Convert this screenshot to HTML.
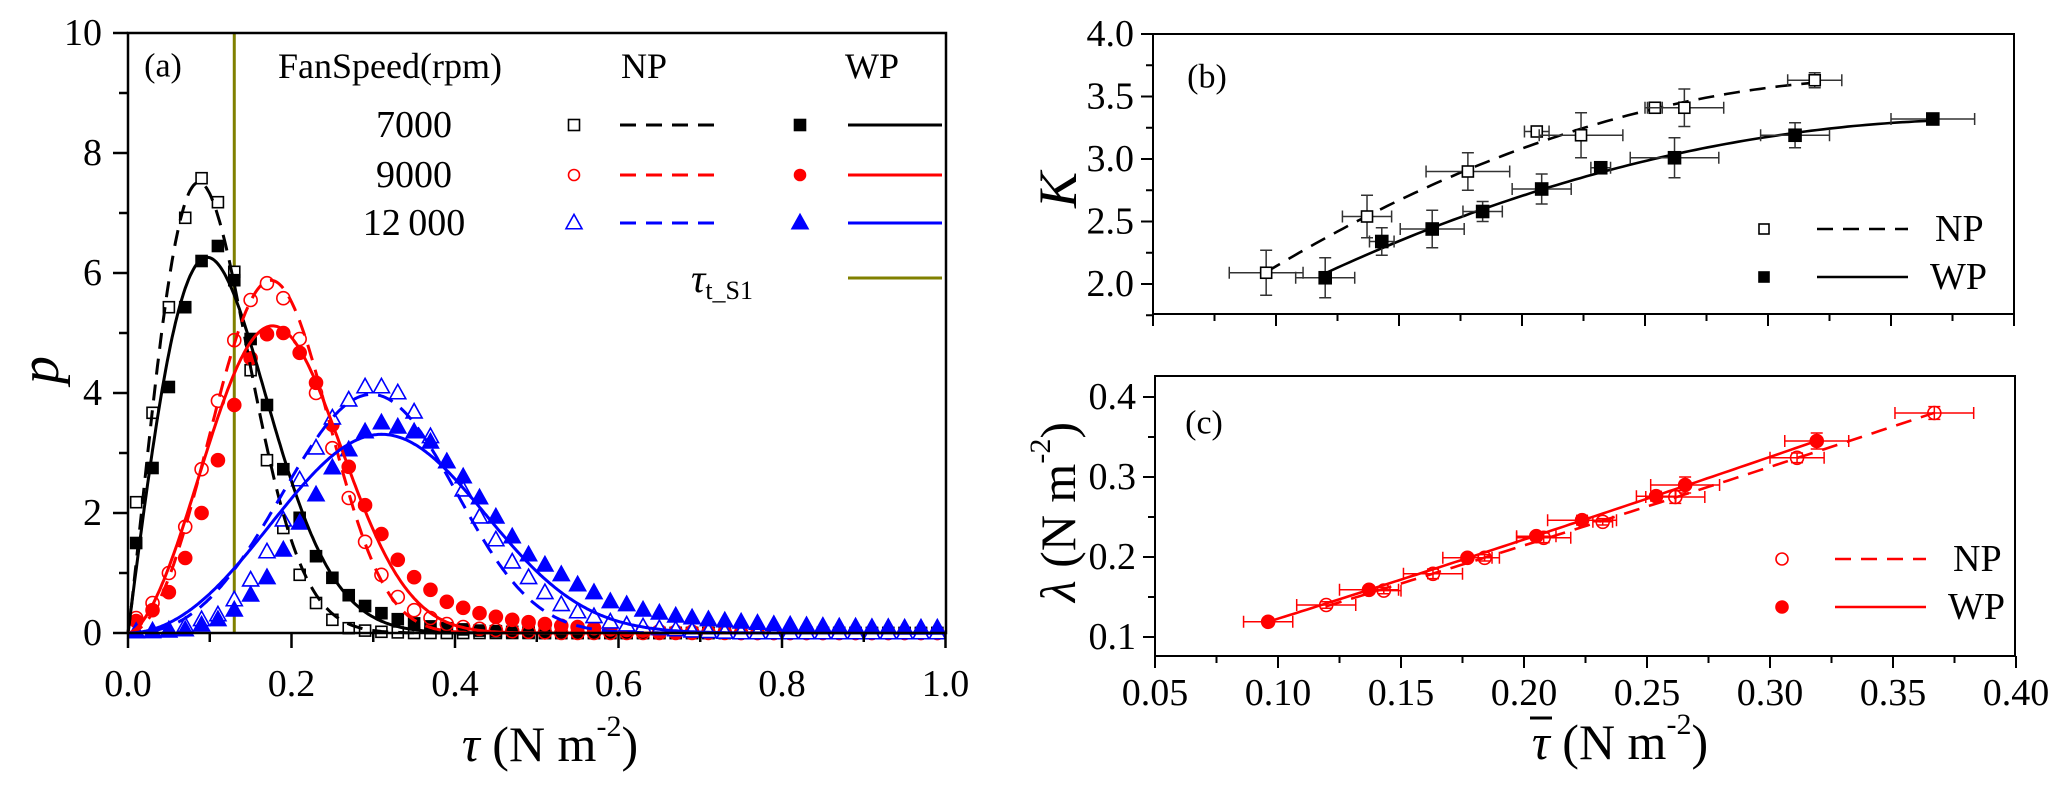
<!DOCTYPE html>
<html><head><meta charset="utf-8">
<style>
html,body{margin:0;padding:0;background:#fff;}
svg{display:block;font-family:"Liberation Serif","DejaVu Serif",serif;}
svg text{font-family:"Liberation Serif","DejaVu Serif",serif;}
</style></head>
<body>
<svg id="fig" width="2067" height="786" viewBox="0 0 2067 786" xmlns="http://www.w3.org/2000/svg" font-family="Liberation Serif, DejaVu Serif, serif"></svg>
<script>
// ---------- Panel (a) data ----------
const aX0 = 0.01, aDX = 0.02; // bin centres
const np7000 = [2.18,3.67,5.43,6.92,7.58,7.18,6.02,4.38,2.88,1.75,0.97,0.5,0.22,0.08,0.04,0.02,0.01,0,0,0,0,0,0,0,0,0,0,0,0,0,0,0,0,0,0,0,0,0,0,0,0,0,0,0,0,0,0,0,0,0];
const wp7000 = [1.5,2.75,4.1,5.43,6.2,6.45,5.88,4.9,3.8,2.73,1.92,1.28,0.92,0.63,0.45,0.33,0.23,0.16,0.11,0.08,0.06,0.04,0.03,0.02,0.01,0,0,0,0,0,0,0,0,0,0,0,0,0,0,0,0,0,0,0,0,0,0,0,0,0];
const np9000 = [0.25,0.5,1.0,1.77,2.73,3.87,4.88,5.55,5.83,5.58,4.9,4.0,3.08,2.25,1.52,0.97,0.6,0.38,0.25,0.15,0.1,0.07,0.05,0.03,0.02,0.01,0,0,0,0,0,0,0,0,0,0,0,0,0,0,0,0,0,0,0,0,0,0,0,0];
const wp9000 = [0.2,0.38,0.68,1.25,2.0,2.88,3.8,4.58,4.98,5.0,4.67,4.17,3.47,2.77,2.13,1.65,1.22,0.93,0.72,0.52,0.42,0.33,0.27,0.22,0.18,0.15,0.12,0.1,0.08,0.06,0.05,0.04,0.03,0.02,0.02,0.01,0.01,0,0,0,0,0,0,0,0,0,0,0,0,0];
const np12000 = [0.02,0.02,0.05,0.12,0.22,0.3,0.55,0.88,1.35,1.88,2.55,3.08,3.58,3.88,4.1,4.1,4.0,3.68,3.27,2.85,2.38,1.93,1.55,1.18,0.92,0.67,0.47,0.35,0.27,0.18,0.13,0.1,0.07,0.05,0.03,0.02,0.01,0,0,0,0,0,0,0,0,0,0,0,0,0];
const wp12000 = [0.02,0.03,0.03,0.05,0.13,0.22,0.38,0.63,0.92,1.38,1.83,2.3,2.75,3.05,3.35,3.5,3.43,3.35,3.18,2.85,2.6,2.25,1.93,1.6,1.3,1.13,0.97,0.8,0.67,0.52,0.47,0.38,0.33,0.28,0.25,0.22,0.2,0.18,0.16,0.14,0.13,0.12,0.11,0.1,0.1,0.09,0.09,0.08,0.08,0.08];
// Weibull fit parameters [shape k, scale lambda]
const fitNP7000 = [2.1, 0.118];
const fitWP7000 = [2.0, 0.137];
const fitNP9000 = [3.0, 0.2];
const fitWP9000 = [2.7, 0.21];
const fitNP12000 = [3.4, 0.33];
const fitWP12000 = [3.0, 0.355];
const tauThreshold = 0.13;
const aXTicks = [0.0,0.2,0.4,0.6,0.8,1.0];
const aXTickLabels = ["0.0","0.2","0.4","0.6","0.8","1.0"];
const aYTicks = [0,2,4,6,8,10];

// ---------- Panel (b) data ----------
const bNPx = [0.096,0.137,0.178,0.206,0.224,0.254,0.266,0.319];
const bNPk = [2.09,2.54,2.90,3.22,3.19,3.41,3.41,3.63];
const bNPex = [0.015,0.01,0.017,0.005,0.017,0.003,0.016,0.011];
const bNPey = [0.18,0.17,0.15,0.03,0.18,0.03,0.15,0.06];
const bWPx = [0.120,0.143,0.1635,0.184,0.208,0.232,0.262,0.311,0.367];
const bWPk = [2.05,2.34,2.44,2.58,2.76,2.93,3.01,3.19,3.32];
const bWPex = [0.012,0.005,0.013,0.008,0.012,0.004,0.018,0.014,0.017];
const bWPey = [0.16,0.11,0.15,0.08,0.12,0.02,0.16,0.1,0.03];
const bYTicks = [2.0,2.5,3.0,3.5,4.0];
const bYTickLabels = ["2.0","2.5","3.0","3.5","4.0"];

// ---------- Panel (c) data ----------
const cWPx = [0.096,0.137,0.177,0.205,0.2236,0.2537,0.2655,0.319];
const cWPl = [0.119,0.159,0.199,0.226,0.246,0.276,0.29,0.345];
const cWPex = [0.01,0.012,0.01,0.008,0.014,0.008,0.014,0.013];
const cWPey = [0.004,0.004,0.004,0.004,0.006,0.006,0.01,0.01];
const cNPx = [0.1196,0.143,0.163,0.184,0.208,0.232,0.2615,0.311,0.3668];
const cNPl = [0.14,0.158,0.179,0.199,0.224,0.244,0.275,0.324,0.38];
const cNPex = [0.012,0.007,0.012,0.006,0.011,0.004,0.012,0.011,0.016];
const cNPey = [0.004,0.004,0.006,0.004,0.006,0.004,0.008,0.006,0.008];
const cXTicks = [0.05,0.10,0.15,0.20,0.25,0.30,0.35,0.40];
const cXTickLabels = ["0.05","0.10","0.15","0.20","0.25","0.30","0.35","0.40"];
const cYTicks = [0.1,0.2,0.3,0.4];
const cYTickLabels = ["0.1","0.2","0.3","0.4"];

const NS = "http://www.w3.org/2000/svg";
const FONT = '"Liberation Serif", "DejaVu Serif", serif';
const svg = document.getElementById('fig');
function el(tag, attrs, parent) {
  const e = document.createElementNS(NS, tag);
  for (const k in attrs) e.setAttribute(k, attrs[k]);
  (parent || svg).appendChild(e);
  return e;
}
function txt(s, x, y, size, opts, parent) {
  const t = el('text', Object.assign({x:x, y:y, 'font-size':size, fill:'#000', 'dominant-baseline':'central', 'font-family':FONT}, opts||{}), parent);
  t.textContent = s;
  return t;
}

// axis functions
const ax = v => 128 + v * 817.5;
const ay = v => 633 - v * 60;
const bx = v => 1153 + (v - 0.05) * 2460;
const by = v => 34 + (4.0 - v) * 125;
const cx = v => 1155 + (v - 0.05) * 2460;
const cy = v => 397 + (0.4 - v) * 800;

function weib(x, k, l) { if (x <= 0) return 0; const z = x / l; return (k / l) * Math.pow(z, k - 1) * Math.exp(-Math.pow(z, k)); }

function marker(g, type, x, y, color, s) {
  let m;
  if (type === 'sq' || type === 'sqf') {
    m = el('rect', {x:x-s/2, y:y-s/2, width:s, height:s, fill: type==='sqf'?color:'#fff', stroke:color, 'stroke-width':1.6}, g);
  } else if (type === 'ci' || type === 'cif') {
    m = el('circle', {cx:x, cy:y, r:s/2, fill: type==='cif'?color:'none', stroke:color, 'stroke-width':1.6}, g);
  } else {
    const h = s * 0.9;
    m = el('polygon', {points:`${x},${y-h*0.6} ${x-s/2},${y+h*0.4} ${x+s/2},${y+h*0.4}`, fill: type==='trf'?color:'#fff', stroke:color, 'stroke-width':1.6}, g);
  }
  return m;
}

// ================= Panel (a) =================
const pa = el('g', {});


const thr = el('line', {x1:ax(tauThreshold), x2:ax(tauThreshold), y1:ay(10), y2:ay(0), stroke:'#808000', 'stroke-width':3}, pa);



const aSeries = [
  {name:'np-7000', vals:np7000, fit:fitNP7000, type:'sq', color:'#000', dash:true},
  {name:'wp-7000', vals:wp7000, fit:fitWP7000, type:'sqf', color:'#000', dash:false},
  {name:'np-9000', vals:np9000, fit:fitNP9000, type:'ci', color:'#ff0000', dash:true},
  {name:'wp-9000', vals:wp9000, fit:fitWP9000, type:'cif', color:'#ff0000', dash:false},
  {name:'np-12000', vals:np12000, fit:fitNP12000, type:'tr', color:'#0000ff', dash:true},
  {name:'wp-12000', vals:wp12000, fit:fitWP12000, type:'trf', color:'#0000ff', dash:false}
];
aSeries.forEach(s => {
  const g = el('g', {}, pa);
  
  
  s.vals.forEach((v, i) => {
    const m = marker(g, s.type, ax(aX0 + i * aDX), ay(v), s.color, s.type.startsWith('ci') ? 13 : (s.type.startsWith('tr') ? 16 : 11));
    
    
  });
});
aSeries.forEach(s => {
  let d = '';
  for (let i = 0; i <= 500; i++) {
    const x = i / 500;
    const v = weib(x, s.fit[0], s.fit[1]);
    if (v > 10) continue;
    d += (d ? 'L' : 'M') + ax(x).toFixed(1) + ',' + ay(v).toFixed(1);
  }
  const p = el('path', {d:d, fill:'none', stroke:s.color, 'stroke-width':3, 'stroke-dasharray': s.dash ? '16,10' : 'none'}, pa);
  
  
});
el('rect', {x:128, y:33, width:818, height:600, fill:'none', stroke:'#000', 'stroke-width':2.5}, pa);
aXTicks.forEach((t, i) => {
  el('line', {x1:ax(t), x2:ax(t), y1:633, y2:648, stroke:'#000', 'stroke-width':2.5}, pa);
  if (i < aXTicks.length - 1) el('line', {x1:ax(t+0.1), x2:ax(t+0.1), y1:633, y2:642, stroke:'#000', 'stroke-width':2.5}, pa);
  const l = txt(aXTickLabels[i], ax(t), 684, 38, {'text-anchor':'middle'}, pa);
  
  
});
aYTicks.forEach((t, i) => {
  el('line', {x1:113, x2:128, y1:ay(t), y2:ay(t), stroke:'#000', 'stroke-width':2.5}, pa);
  if (t < 10) el('line', {x1:119, x2:128, y1:ay(t+1), y2:ay(t+1), stroke:'#000', 'stroke-width':2.5}, pa);
  const l = txt(String(t), 102, ay(t), 38, {'text-anchor':'end'}, pa);
  
  
});
const aYt = txt('p', 40, 370, 56, {'font-style':'italic', 'text-anchor':'middle', transform:'rotate(-90 40 370)'}, pa);


const aXt = el('text', {x:550, y:744, 'font-size':50, 'text-anchor':'middle', 'dominant-baseline':'central', 'font-family':FONT}, pa);
aXt.innerHTML = '<tspan font-style="italic">τ</tspan> (N m<tspan dy="-18" font-size="30">-2</tspan><tspan dy="18">)</tspan>';


const la = txt('(a)', 163, 66, 34, {'text-anchor':'middle'}, pa);


const lg = el('g', {}, pa);


txt('FanSpeed(rpm)', 390, 66, 36, {'text-anchor':'middle'}, lg);
txt('NP', 644, 66, 36, {'text-anchor':'middle'}, lg);
txt('WP', 872, 66, 36, {'text-anchor':'middle'}, lg);
const legRows = [['7000', 125, '#000', 'sq', 'sqf'], ['9000', 175, '#ff0000', 'ci', 'cif'], ['12\u2009000', 223, '#0000ff', 'tr', 'trf']];
legRows.forEach(r => {
  const e = txt(r[0], 414, r[1], 38, {'text-anchor':'middle'}, lg);
  
  
  marker(lg, r[3], 574, r[1], r[2], r[3] === 'tr' ? 16 : 11);
  el('line', {x1:620, x2:714, y1:r[1], y2:r[1], stroke:r[2], 'stroke-width':3, 'stroke-dasharray':'16,10'}, lg);
  marker(lg, r[4], 800, r[1], r[2], r[4] === 'trf' ? 16 : 11);
  el('line', {x1:848, x2:942, y1:r[1], y2:r[1], stroke:r[2], 'stroke-width':3}, lg);
});
const tl = el('text', {x:722, y:278, 'font-size':40, 'dominant-baseline':'central', 'text-anchor':'middle', 'font-family':FONT}, lg);
tl.innerHTML = '<tspan font-style="italic">τ</tspan><tspan font-size="26" dy="12">t_S1</tspan>';
el('line', {x1:848, x2:942, y1:278, y2:278, stroke:'#808000', 'stroke-width':3}, lg);

// ================= Panel (b) =================
const pb = el('g', {});


function quadFit(xs, ys) {
  let S = [0,0,0,0,0], T = [0,0,0];
  xs.forEach((x, i) => { let p = 1; for (let k = 0; k < 5; k++) { S[k] += p; if (k < 3) T[k] += p * ys[i]; p *= x; } });
  const A = [[S[0],S[1],S[2],T[0]],[S[1],S[2],S[3],T[1]],[S[2],S[3],S[4],T[2]]];
  for (let i = 0; i < 3; i++) { for (let j = i+1; j < 3; j++) { const f = A[j][i]/A[i][i]; for (let k = i; k < 4; k++) A[j][k] -= f*A[i][k]; } }
  const c = [0,0,0];
  for (let i = 2; i >= 0; i--) { let s = A[i][3]; for (let k = i+1; k < 3; k++) s -= A[i][k]*c[k]; c[i] = s/A[i][i]; }
  return x => c[0] + c[1]*x + c[2]*x*x;
}
function drawFit(g, f, x0, x1, X, Y, color, dash, name) {
  let d = '';
  for (let i = 0; i <= 100; i++) { const x = x0 + (x1 - x0) * i / 100; d += (d ? 'L' : 'M') + X(x).toFixed(1) + ',' + Y(f(x)).toFixed(1); }
  const p = el('path', {d:d, fill:'none', stroke:color, 'stroke-width':2.6, 'stroke-dasharray': dash ? '16,10' : 'none'}, g);
  
  
}
function drawErr(g, xs, ys, exs, eys, X, Y, color, type, name, size) {
  xs.forEach((x, i) => {
    const px = X(x), py = Y(ys[i]);
    const x1 = X(x - exs[i]), x2 = X(x + exs[i]), y1 = Y(ys[i] - eys[i]), y2 = Y(ys[i] + eys[i]);
    el('path', {d:`M${x1},${py}H${x2}M${x1},${py-6}V${py+6}M${x2},${py-6}V${py+6}M${px},${y1}V${y2}M${px-6},${y1}H${px+6}M${px-6},${y2}H${px+6}`, stroke:color, 'stroke-width':1.5, fill:'none'}, g);
    const m = marker(g, type, px, py, type.startsWith('ci') ? color : '#000', size);
    
    
  });
}
const bNPf = quadFit(bNPx, bNPk), bWPf = quadFit(bWPx, bWPk);
drawFit(pb, bNPf, bNPx[0], bNPx[bNPx.length-1], bx, by, '#000', true, 'fit-np-b');
drawFit(pb, bWPf, bWPx[0], bWPx[bWPx.length-1], bx, by, '#000', false, 'fit-wp-b');
drawErr(pb, bNPx, bNPk, bNPex, bNPey, bx, by, '#333', 'sq', 'point-np-b', 11);
drawErr(pb, bWPx, bWPk, bWPex, bWPey, bx, by, '#333', 'sqf', 'point-wp-b', 12);
el('rect', {x:1153, y:34, width:861, height:280, fill:'none', stroke:'#000', 'stroke-width':2}, pb);
cXTicks.forEach(t => {
  el('line', {x1:bx(t), x2:bx(t), y1:314, y2:326, stroke:'#000', 'stroke-width':2}, pb);
  if (t < 0.39) el('line', {x1:bx(t+0.025), x2:bx(t+0.025), y1:314, y2:321, stroke:'#000', 'stroke-width':2}, pb);
});
bYTicks.forEach((t, i) => {
  el('line', {x1:1141, x2:1153, y1:by(t), y2:by(t), stroke:'#000', 'stroke-width':2}, pb);
  el('line', {x1:1146, x2:1153, y1:by(t-0.25), y2:by(t-0.25), stroke:'#000', 'stroke-width':2}, pb);
  const l = txt(bYTickLabels[i], 1134, by(t), 38, {'text-anchor':'end'}, pb);
  
  
});
const bYt = txt('K', 1058, 190, 54, {'font-style':'italic', 'text-anchor':'middle', transform:'rotate(-90 1058 190)'}, pb);


const lb = txt('(b)', 1207, 77, 34, {'text-anchor':'middle'}, pb);


const lgb = el('g', {}, pb);


marker(lgb, 'sq', 1764, 229, '#000', 10);
el('line', {x1:1817, x2:1908, y1:229, y2:229, stroke:'#000', 'stroke-width':2.6, 'stroke-dasharray':'16,10'}, lgb);
txt('NP', 1935, 229, 38, {}, lgb);
marker(lgb, 'sqf', 1764, 277, '#000', 10);
el('line', {x1:1817, x2:1908, y1:277, y2:277, stroke:'#000', 'stroke-width':2.6}, lgb);
txt('WP', 1930, 277, 38, {}, lgb);

// ================= Panel (c) =================
const pc = el('g', {});


const cNPf = quadFit(cNPx, cNPl), cWPf = quadFit(cWPx, cWPl);
drawErr(pc, cNPx, cNPl, cNPex, cNPey, cx, cy, '#ff0000', 'ci', 'point-np-c', 13);
drawErr(pc, cWPx, cWPl, cWPex, cWPey, cx, cy, '#ff0000', 'cif', 'point-wp-c', 13);
drawFit(pc, cNPf, cNPx[0], cNPx[cNPx.length-1], cx, cy, '#ff0000', true, 'fit-np-c');
drawFit(pc, cWPf, cWPx[0], cWPx[cWPx.length-1], cx, cy, '#ff0000', false, 'fit-wp-c');
el('rect', {x:1155, y:376, width:860, height:280, fill:'none', stroke:'#000', 'stroke-width':2}, pc);
cXTicks.forEach((t, i) => {
  el('line', {x1:cx(t), x2:cx(t), y1:656, y2:668, stroke:'#000', 'stroke-width':2}, pc);
  if (t < 0.39) el('line', {x1:cx(t+0.025), x2:cx(t+0.025), y1:656, y2:663, stroke:'#000', 'stroke-width':2}, pc);
  const l = txt(cXTickLabels[i], cx(t), 693, 38, {'text-anchor':'middle'}, pc);
  
  
});
cYTicks.forEach((t, i) => {
  el('line', {x1:1143, x2:1155, y1:cy(t), y2:cy(t), stroke:'#000', 'stroke-width':2}, pc);
  if (t < 0.39) el('line', {x1:1148, x2:1155, y1:cy(t+0.05), y2:cy(t+0.05), stroke:'#000', 'stroke-width':2}, pc);
  const l = txt(cYTickLabels[i], 1136, cy(t), 38, {'text-anchor':'end'}, pc);
  
  
});
const cYt = el('text', {x:1058, y:512, 'font-size':50, 'text-anchor':'middle', 'dominant-baseline':'central', transform:'rotate(-90 1058 512)', 'font-family':FONT}, pc);
cYt.innerHTML = '<tspan font-style="italic">λ</tspan> (N m<tspan dy="-18" font-size="30">-2</tspan><tspan dy="18">)</tspan>';


const cXt = el('text', {x:1620, y:742, 'font-size':50, 'text-anchor':'middle', 'dominant-baseline':'central', 'font-family':FONT}, pc);
cXt.innerHTML = '<tspan font-style="italic">τ</tspan> (N m<tspan dy="-18" font-size="30">-2</tspan><tspan dy="18">)</tspan>';


const bar = el('line', {x1:1530, x2:1552, y1:718, y2:718, stroke:'#000', 'stroke-width':3}, pc);


const lc = txt('(c)', 1204, 423, 34, {'text-anchor':'middle'}, pc);


const lgc = el('g', {}, pc);


marker(lgc, 'ci', 1782, 559, '#ff0000', 12);
el('line', {x1:1835, x2:1926, y1:559, y2:559, stroke:'#ff0000', 'stroke-width':2.6, 'stroke-dasharray':'16,10'}, lgc);
txt('NP', 1953, 559, 38, {}, lgc);
marker(lgc, 'cif', 1782, 607, '#ff0000', 12);
el('line', {x1:1835, x2:1926, y1:607, y2:607, stroke:'#ff0000', 'stroke-width':2.6}, lgc);
txt('WP', 1948, 607, 38, {}, lgc);
</script>
</body></html>
